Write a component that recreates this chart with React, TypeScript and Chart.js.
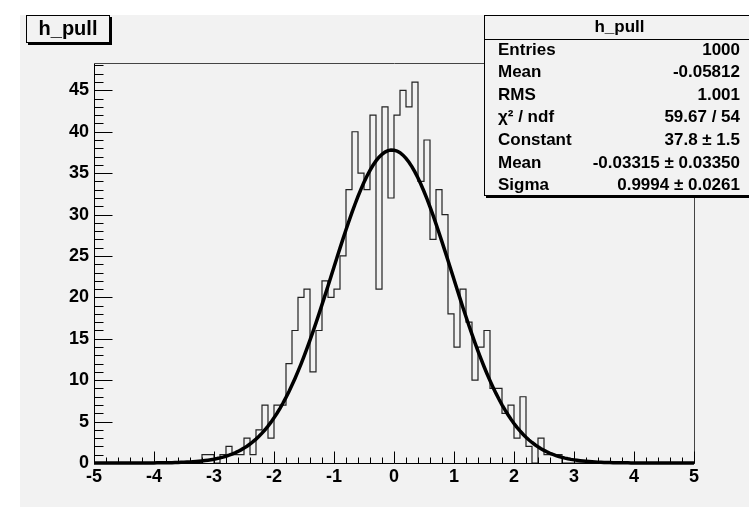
import React, { useEffect, useRef } from 'react';
import { Chart, registerables } from 'chart.js';

Chart.register(...registerables);

// ---- data ----
const BIN_LOW = -5;
const BIN_HIGH = 5;
const BIN_WIDTH = 0.1;
const binCounts = [
  0, 0, 0, 0, 0, 0, 0, 0, 0, 0,
  0, 0, 0, 0, 0, 0, 0, 0, 1, 1,
  0, 1, 2, 1, 1, 3, 1, 4, 7, 3,
  7, 7, 12, 16, 20, 21, 11, 16, 22, 20,
  21, 25, 33, 40, 35, 33, 42, 21, 43, 32,
  42, 45, 43, 46, 34, 39, 27, 33, 30, 18,
  14, 21, 17, 10, 14, 16, 9, 9, 6, 7,
  3, 8, 2, 0, 3, 1, 1, 1, 0, 0,
  0, 0, 0, 0, 0, 0, 0, 0, 0, 0,
  0, 0, 0, 0, 0, 0, 0, 0, 0, 0,
];
const Y_MAX = 48.3;
const X_MAJOR = 1;
const X_MINOR = 0.2;
const Y_MAJOR = 5;
const Y_MINOR = 1;

// Gaussian fit parameters (from the stats box)
const FIT_CONSTANT = 37.8;
const FIT_MEAN = -0.03315;
const FIT_SIGMA = 0.9994;
const FIT_STEP = 0.05;

const statLabels = ['Entries', 'Mean', 'RMS', 'χ² / ndf', 'Constant', 'Mean', 'Sigma'];
const statValues = ['1000', '-0.05812', '1.001', '59.67 / 54', '37.8 ± 1.5', '-0.03315 ± 0.03350', '0.9994 ± 0.0261'];
const HIST_NAME = 'h_pull';

const FONT = '"Liberation Sans", Arial, Helvetica, sans-serif';
const BG = '#f2f2f2';

const rootAxes = {
  id: 'rootAxes',
  afterDatasetsDraw(chart: any) {
    const { ctx, chartArea: a, scales } = chart;
    const x = scales.x;
    const y = scales.y;
    const L = Math.round(a.left) + 0.5;
    const R = Math.round(a.right) + 0.5;
    const T = Math.round(a.top) + 0.5;
    const B = Math.round(a.bottom) + 0.5;
    ctx.save();
    ctx.lineWidth = 1;
    // frame top/right
    ctx.strokeStyle = '#444';
    ctx.beginPath();
    ctx.moveTo(L, T);
    ctx.lineTo(R, T);
    ctx.lineTo(R, B);
    ctx.stroke();
    // axes
    ctx.strokeStyle = '#000';
    ctx.beginPath();
    ctx.moveTo(L, T);
    ctx.lineTo(L, B);
    ctx.lineTo(R, B);
    ctx.stroke();
    // y ticks
    ctx.beginPath();
    for (let v = 0; v <= Y_MAX + 1e-9; v += Y_MINOR) {
      const py = Math.round(y.getPixelForValue(v)) + 0.5;
      const isMajor = Math.abs(v / Y_MAJOR - Math.round(v / Y_MAJOR)) < 1e-6;
      const len = isMajor ? 18 : 9;
      ctx.moveTo(L, py);
      ctx.lineTo(L + len, py);
    }
    // x ticks
    const n = Math.round((BIN_HIGH - BIN_LOW) / X_MINOR);
    for (let k = 0; k <= n; k++) {
      const v = BIN_LOW + k * X_MINOR;
      const px = Math.round(x.getPixelForValue(v)) + 0.5;
      const isMajor = Math.abs(v / X_MAJOR - Math.round(v / X_MAJOR)) < 1e-6;
      const len = isMajor ? 12 : 6;
      ctx.moveTo(px, B);
      ctx.lineTo(px, B - len);
    }
    ctx.stroke();
    ctx.restore();
  },
};

export default function App() {
  const ref = useRef<HTMLCanvasElement>(null);

  useEffect(() => {
    if (!ref.current) return;
    const hist = binCounts.map((c, i) => ({ x: BIN_LOW + i * BIN_WIDTH, y: c }));
    hist.push({ x: BIN_HIGH, y: 0 });
    const nFit = Math.round((BIN_HIGH - BIN_LOW) / FIT_STEP);
    const fit: { x: number; y: number }[] = [];
    for (let k = 0; k <= nFit; k++) {
      const xv = BIN_LOW + k * FIT_STEP;
      const z = (xv - FIT_MEAN) / FIT_SIGMA;
      fit.push({ x: xv, y: FIT_CONSTANT * Math.exp(-0.5 * z * z) });
    }
    const tickFont = { family: FONT, size: 18, weight: 'bold' as const };
    const chart = new Chart(ref.current, {
      type: 'line',
      data: {
        datasets: [
          {
            label: 'gaus',
            data: fit,
            borderColor: '#000',
            borderWidth: 3.5,
            pointRadius: 0,
            tension: 0,
            fill: false,
            clip: false as any,
            order: 0,
          },
          {
            label: HIST_NAME,
            data: hist,
            stepped: 'before',
            borderColor: '#222',
            borderWidth: 1.2,
            pointRadius: 0,
            fill: false,
            order: 1,
          },
        ],
      },
      options: {
        animation: false,
        responsive: false,
        maintainAspectRatio: false,
        devicePixelRatio: 1,
        events: [],
        layout: { padding: { left: 0, top: 63, right: 55, bottom: 0 } },
        plugins: { legend: { display: false }, tooltip: { enabled: false } },
        scales: {
          x: {
            type: 'linear',
            min: BIN_LOW,
            max: BIN_HIGH,
            ticks: {
              stepSize: X_MAJOR,
              color: '#000',
              font: tickFont,
              padding: 3,
              maxRotation: 0,
              autoSkip: false,
              callback: (v: any) => String(v),
            },
            grid: { display: false, drawTicks: false },
            border: { display: false },
            afterFit: (s: any) => {
              s.height = 44;
            },
          },
          y: {
            type: 'linear',
            min: 0,
            max: Y_MAX,
            ticks: {
              stepSize: Y_MAJOR,
              includeBounds: false,
              color: '#000',
              font: tickFont,
              padding: 5,
              callback: (v: any) => String(v),
            },
            grid: { display: false, drawTicks: false },
            border: { display: false },
            afterFit: (s: any) => {
              s.width = 94;
            },
          },
        },
      },
      plugins: [rootAxes],
    });
    return () => chart.destroy();
  }, []);

  const rowH = 22.6;
  return (
    <div
      style={{
        position: 'absolute',
        left: 0,
        top: 0,
        width: 749,
        height: 507,
        overflow: 'hidden',
        background: '#fff',
        fontFamily: FONT,
      }}
    >
      <div style={{ position: 'absolute', left: 20, top: 15, width: 729, height: 492, background: BG }} />
      <canvas ref={ref} width={749} height={507} style={{ position: 'absolute', left: 0, top: 0, width: 749, height: 507 }} />
      {/* title box */}
      <div
        style={{
          position: 'absolute',
          left: 26,
          top: 15,
          width: 82,
          height: 26,
          border: '1px solid #000',
          boxShadow: '2px 2px 0 #000',
          background: BG,
          fontWeight: 'bold',
          fontSize: 20,
          lineHeight: '25px',
          textAlign: 'center',
          color: '#000',
        }}
      >
        {HIST_NAME}
      </div>
      {/* stats box */}
      <div
        style={{
          position: 'absolute',
          left: 484,
          top: 15,
          width: 269,
          height: 179,
          border: '1px solid #000',
          boxShadow: '2px 2px 0 #000',
          background: BG,
          fontWeight: 'bold',
          fontSize: 17,
          color: '#000',
        }}
      >
        <div
          style={{
            position: 'absolute',
            left: 0,
            top: 0,
            width: '100%',
            height: rowH,
            lineHeight: rowH + 'px',
            textAlign: 'center',
            fontSize: 17,
          }}
        >
          {HIST_NAME}
        </div>
        <div style={{ position: 'absolute', left: 0, top: rowH, width: '100%', height: 1, background: '#000' }} />
        {statLabels.map((lab, i) => (
          <div
            key={i}
            style={{
              position: 'absolute',
              left: 13,
              right: 14,
              top: rowH * (i + 1),
              height: rowH,
              lineHeight: rowH + 'px',
              fontSize: 17,
            }}
          >
            <span style={{ position: 'absolute', left: 0 }}>{lab}</span>
            <span style={{ position: 'absolute', right: 0 }}>{statValues[i]}</span>
          </div>
        ))}
      </div>
    </div>
  );
}
